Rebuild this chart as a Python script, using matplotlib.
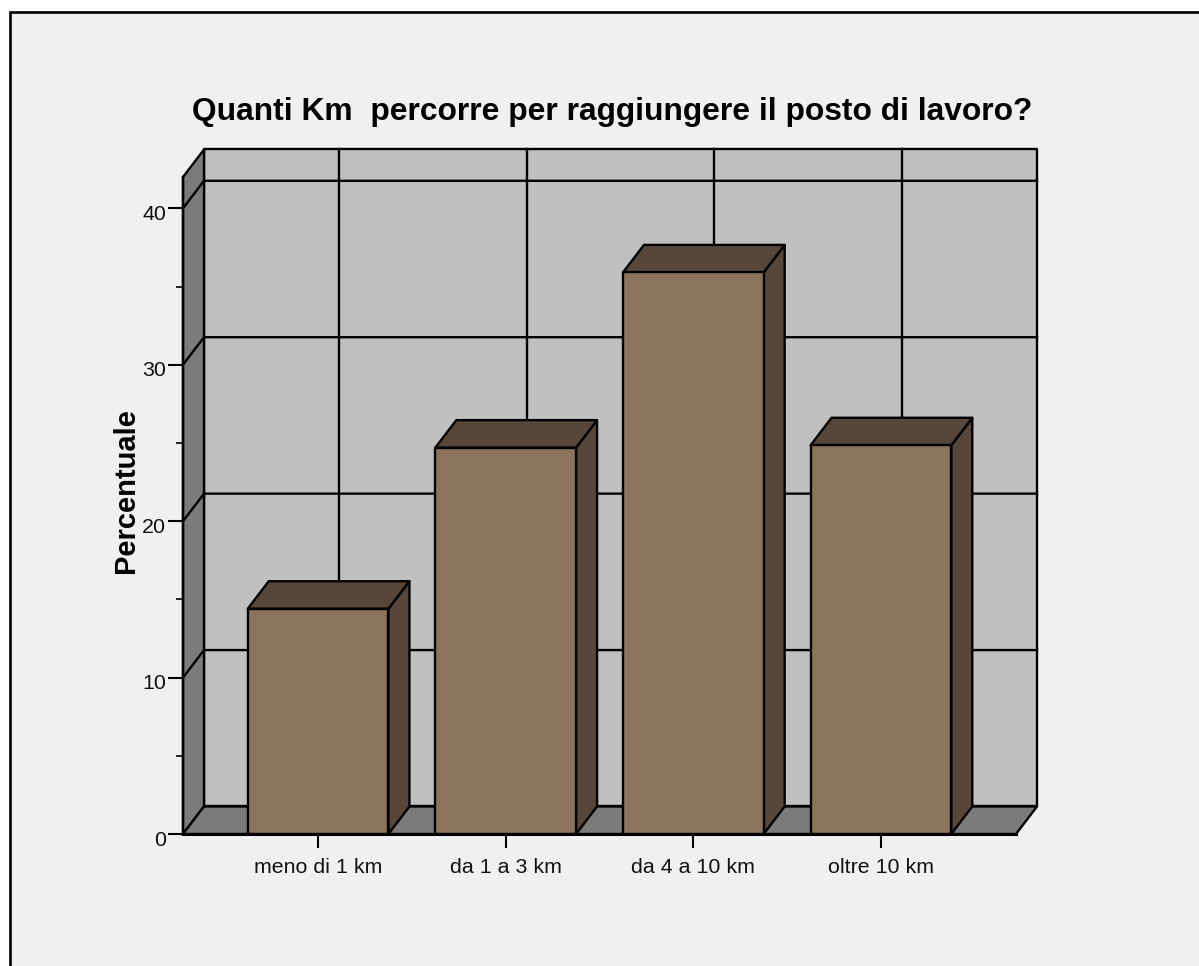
import matplotlib
matplotlib.use('Agg')
import matplotlib.pyplot as plt
from matplotlib.patches import Polygon, Rectangle
from matplotlib.transforms import ScaledTranslation

# data
categories = ['meno di 1 km', 'da 1 a 3 km', 'da 4 a 10 km', 'oltre 10 km']
percent = [14.4, 24.7, 35.9, 24.85]
y_labeled = [0, 10, 20, 30, 40]
y_minor = [5, 15, 25, 35]

W, H = 1199, 966
plt.rcParams['font.family'] = ['Liberation Sans', 'DejaVu Sans']

fig = plt.figure(figsize=(W / 100, H / 100), dpi=100, facecolor='white')

# panel background and its frame
bg = fig.add_axes([0, 0, 1, 1], zorder=0)
bg.set_xlim(0, W)
bg.set_ylim(H, 0)
bg.axis('off')
bg.add_patch(Rectangle((10, 12), W + 20, H + 20, fc='#f0f0f0', ec='black', lw=1.9))

# axes box = front plane of the 3D box
left, right, top, bottom = 183, 1016, 177, 834
ax = fig.add_axes([left / W, 1 - bottom / H, (right - left) / W, (bottom - top) / H], zorder=1)
ax.set_xlim(-0.72, 3.72)
ax.set_ylim(0, 42)
ax.patch.set_visible(False)
for s in ax.spines.values():
    s.set_visible(False)

dx = 21 / 187.5
dy = 27.5 / 15.64
x0, x1 = ax.get_xlim()
y0, y1 = ax.get_ylim()
lw = 1.7
line = dict(ec='black', lw=lw, joinstyle='round', clip_on=False)

# back wall, side wall, floor
ax.add_patch(Polygon([(x0 + dx, y0 + dy), (x1 + dx, y0 + dy), (x1 + dx, y1 + dy), (x0 + dx, y1 + dy)], fc='#c0c0c0', zorder=1, **line))
ax.add_patch(Polygon([(x0, y0), (x0 + dx, y0 + dy), (x0 + dx, y1 + dy), (x0, y1)], fc='#7b7b7b', zorder=1, **line))
ax.add_patch(Polygon([(x0, y0), (x1, y0), (x1 + dx, y0 + dy), (x0 + dx, y0 + dy)], fc='#7b7b7b', zorder=1, **line))

# gridlines on the walls
for v in y_labeled[1:]:
    ax.plot([x0, x0 + dx, x1 + dx], [v, v + dy, v + dy], color='black', lw=lw, zorder=2, clip_on=False)
for i in range(len(categories)):
    ax.plot([i + dx, i + dx], [dy, y1 + dy], color='black', lw=lw, zorder=2, clip_on=False)

# bars
bw = 0.75
for i, v in enumerate(percent):
    a, b = i - bw / 2, i + bw / 2
    ax.add_patch(Polygon([(b, 0), (b + dx, dy), (b + dx, v + dy), (b, v)], fc='#57473a', zorder=3, **line))
    ax.add_patch(Polygon([(a, v), (b, v), (b + dx, v + dy), (a + dx, v + dy)], fc='#57473a', zorder=3, **line))
    ax.add_patch(Polygon([(a, 0), (b, 0), (b, v), (a, v)], fc='#8b735c', zorder=4, **line))

ax.plot([x0, x1], [0, 0], color='black', lw=2.2, zorder=5, clip_on=False)
ax.plot([x0, x0], [0, y1], color='black', lw=lw, zorder=5, clip_on=False)

ax.set_xticks(range(len(categories)))
ax.set_xticklabels(categories, fontsize=15.4, color='#111111')
ax.set_yticks(y_labeled)
ax.set_yticklabels([str(v) for v in y_labeled], fontsize=15.4, color='#111111')
ax.set_yticks(y_minor, minor=True)
ax.tick_params(axis='x', length=10, width=1.5, pad=7)
ax.tick_params(axis='y', length=11, width=1.5, pad=1)
ax.tick_params(axis='y', which='minor', length=5, width=1.2)

# tick labels sit a little below their ticks
shift = ScaledTranslation(0, -4 / 100, fig.dpi_scale_trans)
for t in ax.get_yticklabels():
    t.set_transform(t.get_transform() + shift)

fig.text(612 / W, 1 - 112 / H, 'Quanti Km  percorre per raggiungere il posto di lavoro?',
         fontsize=22.9, fontweight='bold', ha='center', va='center')
fig.text(126 / W, 1 - 491 / H, 'Percentuale', fontsize=21, fontweight='bold',
         rotation=90, ha='center', va='center')

fig.savefig('out.png', dpi=100)
